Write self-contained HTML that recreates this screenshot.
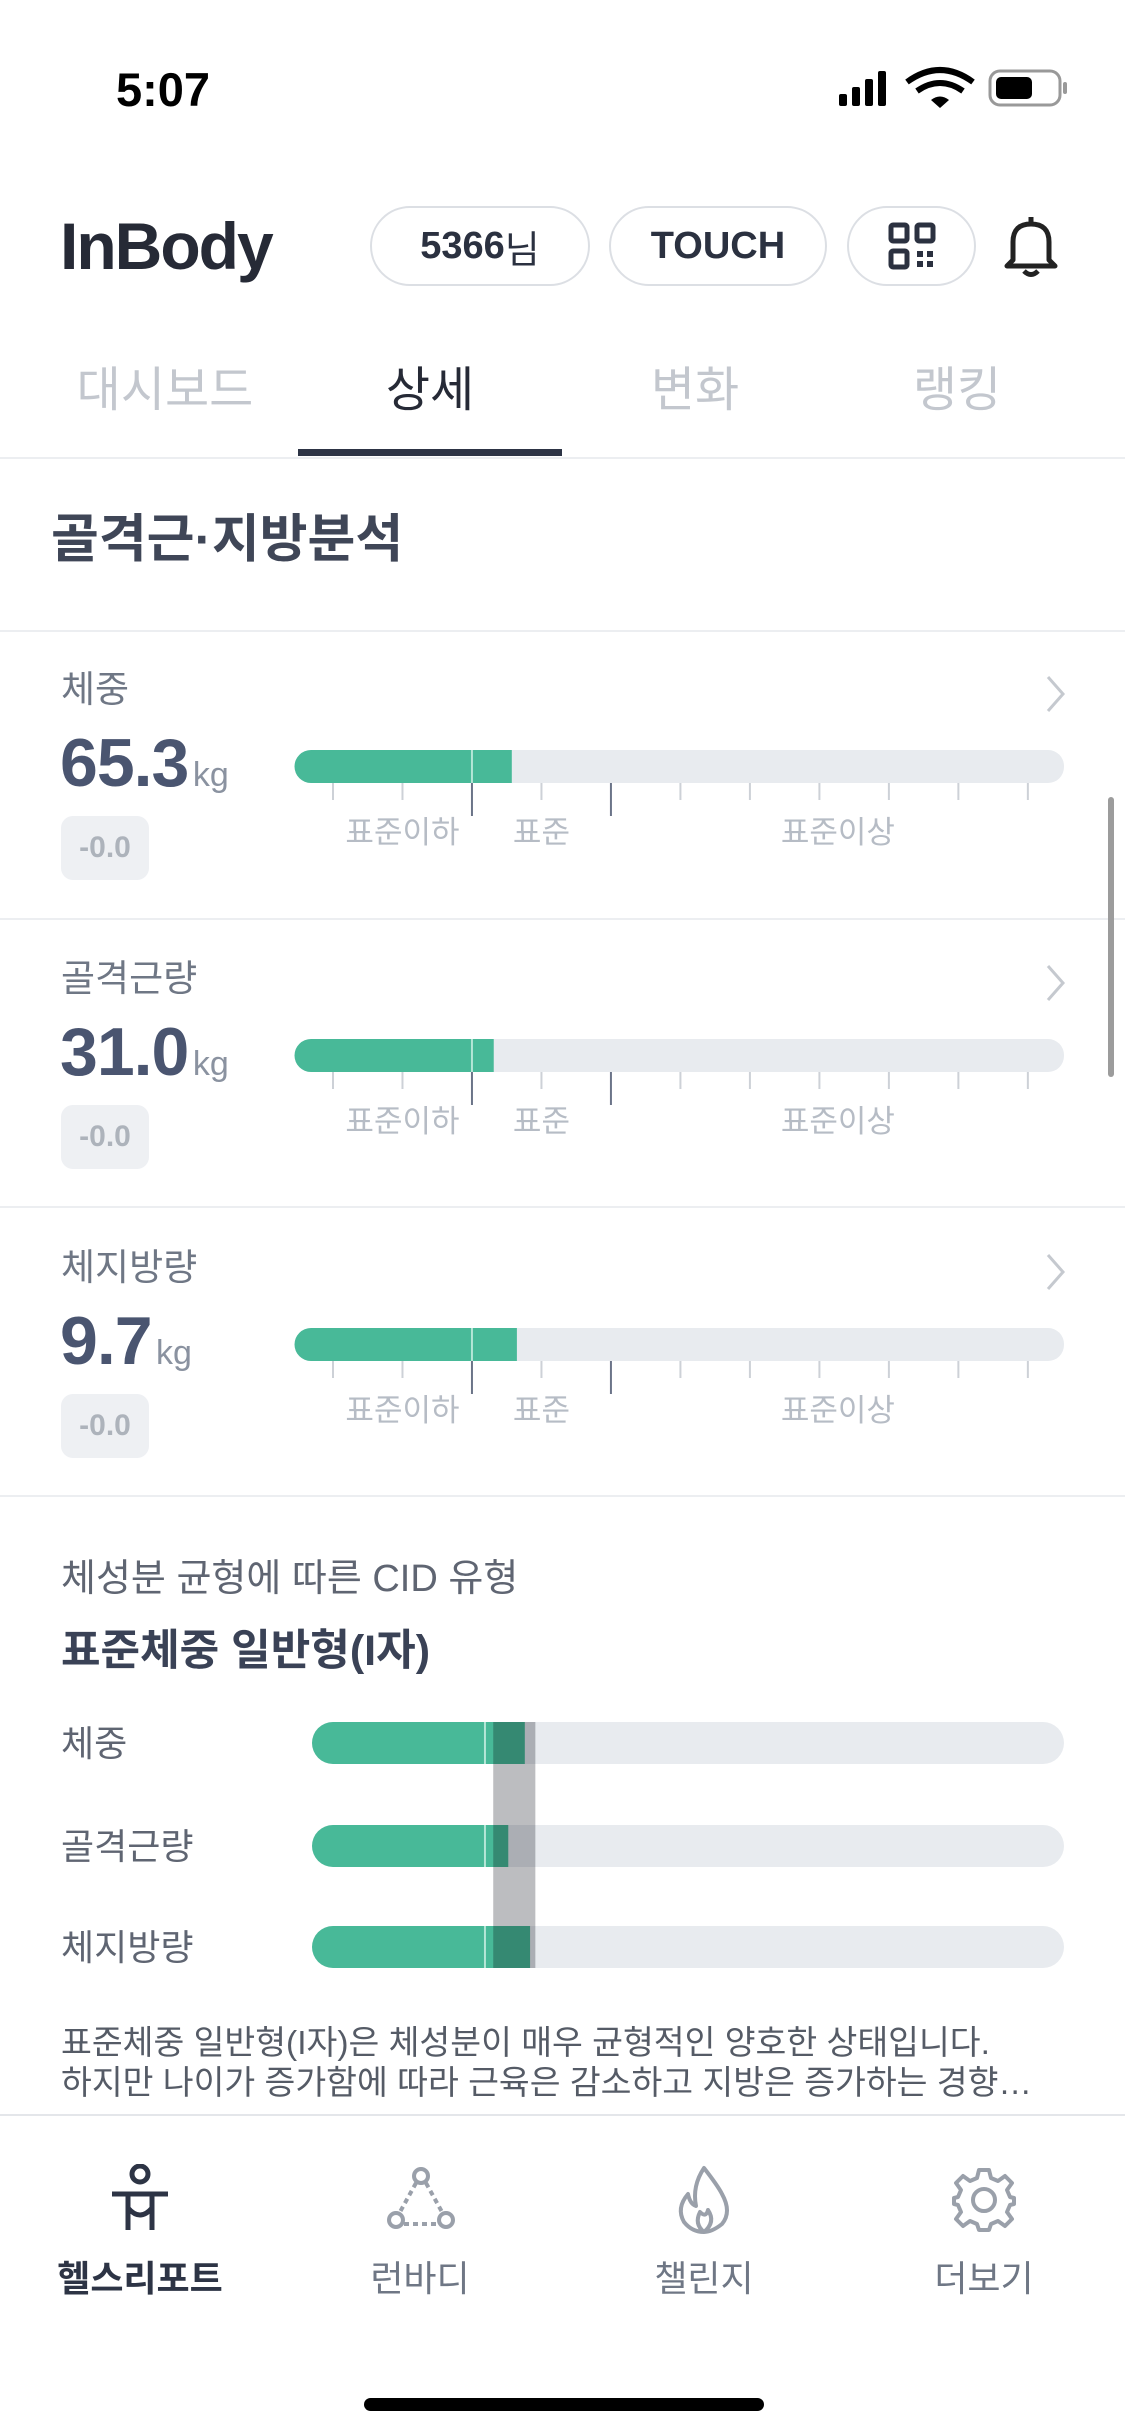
<!DOCTYPE html>
<html><head><meta charset="utf-8">
<style>
*{margin:0;padding:0;box-sizing:border-box}
body{width:1125px;height:2436px;background:#fff;position:relative;overflow:hidden;font-family:"Liberation Sans","Noto Sans CJK KR",sans-serif;color:#3a4256}
.a{position:absolute;white-space:nowrap}
.pill{position:absolute;border:2px solid #dcdfe4;border-radius:40px;top:206px;height:80px;display:flex;align-items:center;justify-content:center;font-weight:bold;font-size:38px;color:#2b3140}
.tab{position:absolute;top:350px;font-size:48px;color:#c3c7ce;transform:translateX(-50%)}
.hr{position:absolute;left:0;width:1125px;height:2px;background:#eceef1}
.lbl{font-size:37px;color:#6f7785}
.val{font-size:68px;font-weight:bold;color:#4a5570;letter-spacing:-1px}
.kg{font-size:34px;color:#8a92a0}
.badge{position:absolute;left:61px;width:88px;height:64px;background:#eef0f3;border-radius:12px;font-size:30px;font-weight:bold;color:#adb3bb;display:flex;align-items:center;justify-content:center}
.nav{position:absolute;top:2250px;font-size:36px;color:#6f7785;transform:translateX(-50%)}
</style></head><body>
<div class="a" style="left:116px;top:62px;font-size:47px;font-weight:bold;color:#000">5:07</div>
<svg class="a" style="left:835px;top:66px" width="240" height="44">
<rect x="4" y="28" width="8" height="12" rx="2" fill="#000"/><rect x="17" y="21" width="8" height="19" rx="2" fill="#000"/><rect x="30" y="13" width="8" height="27" rx="2" fill="#000"/><rect x="43" y="5" width="8" height="35" rx="2" fill="#000"/>
<path d="M72 16 Q105 -8 138 16" stroke="#000" stroke-width="6" fill="none"/><path d="M82 25 Q105 9 128 25" stroke="#000" stroke-width="6" fill="none"/><path d="M96 34 L105 42 L114 34 Q105 27 96 34Z" fill="#000"/>
<rect x="155" y="5" width="70" height="34" rx="10" stroke="#999" stroke-width="3" fill="none"/><rect x="161" y="11" width="36" height="22" rx="5" fill="#000"/><rect x="228" y="16" width="4" height="12" rx="2" fill="#999"/>
</svg>
<div class="a" style="left:60px;top:208px;font-size:66px;font-weight:bold;color:#262a36;letter-spacing:-2px">InBody</div>
<div class="pill" style="left:370px;width:220px">5366<span style="font-weight:normal">님</span></div>
<div class="pill" style="left:609px;width:218px">TOUCH</div>
<div class="pill" style="left:847px;width:129px"><svg width="48" height="48"><g fill="none" stroke="#2b3140" stroke-width="5"><rect x="3" y="3" width="16" height="16" rx="2"/><rect x="29" y="3" width="16" height="16" rx="2"/><rect x="3" y="29" width="16" height="16" rx="2"/></g><rect x="29" y="29" width="6" height="6" fill="#2b3140"/><rect x="39" y="39" width="6" height="6" fill="#2b3140"/><rect x="39" y="29" width="6" height="6" fill="#2b3140"/><rect x="29" y="39" width="6" height="6" fill="#2b3140"/></svg></div>
<svg class="a" style="left:1003px;top:214px" width="56" height="64"><path d="M10 46 L10 28 Q10 10 28 10 Q46 10 46 28 L46 46 L52 52 L4 52 Z" fill="none" stroke="#222" stroke-width="5" stroke-linejoin="round"/><path d="M21 57 Q28 64 35 57" stroke="#222" stroke-width="5" fill="none"/><line x1="28" y1="3" x2="28" y2="10" stroke="#222" stroke-width="5"/></svg>
<div class="tab" style="left:165px">대시보드</div>
<div class="tab" style="left:430px;color:#262a36">상세</div>
<div class="tab" style="left:695px">변화</div>
<div class="tab" style="left:957px">랭킹</div>
<div class="a" style="left:298px;top:449px;width:264px;height:7px;background:#2d3445"></div>
<div class="hr" style="top:457px"></div>
<div class="a" style="left:51px;top:497px;font-size:52px;font-weight:bold;color:#3f4657">골격근·지방분석</div>
<div class="hr" style="top:630px"></div>
<div id="cards"></div>
<div class="hr" style="top:918px"></div><div class="hr" style="top:1206px"></div><div class="hr" style="top:1495px"></div>
<div class="a" style="left:1108px;top:797px;width:6px;height:280px;background:#9c9c9c;border-radius:3px"></div>
<div class="a" style="left:61px;top:1547px;font-size:38px;color:#5f6572">체성분 균형에 따른 CID 유형</div>
<div class="a" style="left:61px;top:1616px;font-size:43px;font-weight:bold;color:#3a4256">표준체중 일반형(I자)</div>
<svg class="a" id="cid" style="left:0;top:1700px" width="1125" height="290"></svg>
<div class="a" style="left:61px;top:2024px;font-size:33.5px;line-height:40px;color:#555b66">표준체중 일반형(I자)은 체성분이 매우 균형적인 양호한 상태입니다.<br>하지만 나이가 증가함에 따라 근육은 감소하고 지방은 증가하는 경향…</div>
<div class="a" style="left:0;top:2114px;width:1125px;height:322px;background:#fff;border-top:2px solid #e4e6ea"></div>
<svg class="a" style="left:108px;top:2164px" width="64" height="70"><circle cx="32" cy="10" r="8" fill="none" stroke="#2d3445" stroke-width="5"/><path d="M4 30 L60 30 M20 30 L20 66 M44 30 L44 66 M20 44 Q32 58 44 44" fill="none" stroke="#2d3445" stroke-width="5"/></svg>
<svg class="a" style="left:386px;top:2166px" width="70" height="66"><g fill="none" stroke="#9aa0aa" stroke-width="4"><circle cx="35" cy="10" r="7"/><circle cx="10" cy="54" r="7"/><circle cx="60" cy="54" r="7"/><path d="M30 17 L14 46 M40 17 L56 46 M18 58 L52 58" stroke-dasharray="5 4"/></g></svg>
<svg class="a" style="left:672px;top:2164px" width="64" height="70"><path d="M32 4 Q46 22 50 30 Q60 48 50 60 Q40 68 32 68 Q20 68 12 58 Q4 44 16 30 Q18 40 24 42 Q20 22 32 4Z M32 68 Q22 60 28 48 Q34 54 36 46 Q44 58 32 68" fill="none" stroke="#9aa0aa" stroke-width="4" stroke-linejoin="round"/></svg>
<svg class="a" style="left:950px;top:2166px" width="68" height="68"><circle cx="34" cy="34" r="11" fill="none" stroke="#9aa0aa" stroke-width="4"/><path d="M29 4 L39 4 L41 12 L48 15 L55 10 L62 17 L57 24 L60 31 L64 32 L64 38 L60 39 L57 46 L62 53 L55 60 L48 55 L41 58 L39 64 L29 64 L27 58 L20 55 L13 60 L6 53 L11 46 L8 39 L4 38 L4 32 L8 31 L11 24 L6 17 L13 10 L20 15 L27 12 Z" fill="none" stroke="#9aa0aa" stroke-width="4" stroke-linejoin="round"/></svg>
<div class="nav" style="left:140px;color:#2d3445;font-weight:bold">헬스리포트</div>
<div class="nav" style="left:420px">런바디</div>
<div class="nav" style="left:704px">챌린지</div>
<div class="nav" style="left:984px">더보기</div>
<div class="a" style="left:364px;top:2398px;width:400px;height:13px;border-radius:7px;background:#000"></div>
<script>
const metricNames = ["체중","골격근량","체지방량"];
const metricValues = ["65.3","31.0","9.7"];
const metricChanges = ["-0.0","-0.0","-0.0"];
const metricPercents = [93.6, 89.7, 94.7];
const tickValues = [55,70,85,100,115,130,145,160,175,190,205];
const rangeLabels = ["표준이하","표준","표준이상"];
const rangeLabelAt = [70, 100, 164];
const cidNames = ["체중","골격근량","체지방량"];
const cidValues = [28.3, 26.1, 29.0];
const cidBand = [24.1, 29.7];
const cidMark = 23.0;

const NS="http://www.w3.org/2000/svg";
const bx0=295,bx1=1064,d0=46.8,d1=212.8;
function xs(v){return bx0+(v-d0)/(d1-d0)*(bx1-bx0);}
const cards=document.getElementById('cards');
metricNames.forEach((n,i)=>{
  const top=i*289;
  const g=document.createElement('div');
  
  
  g.innerHTML=`<div class="a lbl" style="left:61px;top:${659+top}px">${n}</div>
  <svg class="a" style="left:1044px;top:${674+top}px" width="24" height="40"><path d="M4 3 L19 20 L4 37" fill="none" stroke="#c5c9cf" stroke-width="3"/></svg>
  <div class="a" style="left:60px;top:${724+top}px"><span class="val">${metricValues[i]}</span> <span class="kg">kg</span></div>
  <div class="badge" style="top:${816+top}px">${metricChanges[i]}</div>`;
  cards.appendChild(g);
  const s=document.createElementNS(NS,'svg');
  s.setAttribute('class','a');s.setAttribute('width','1125');s.setAttribute('height','110');
  s.style.left='0';s.style.top=(745+top)+'px';
  
  
  const y0=5,h=33;
  let html=`<rect x="${bx0}" y="${y0}" width="${bx1-bx0}" height="${h}" rx="16" fill="#e8ebef"/>`;
  html+=`<path d="M${bx0+16} ${y0} H${xs(metricPercents[i])} V${y0+h} H${bx0+16} A16 16 0 0 1 ${bx0+16} ${y0}Z" fill="#48b998"/>`;
  html+=`<line x1="${xs(85)}" y1="${y0}" x2="${xs(85)}" y2="${y0+h}" stroke="#b5e6d6" stroke-width="2"/>`;
  tickValues.forEach(t=>{const dark=(t==85||t==115);html+=`<line x1="${xs(t)}" y1="${y0+h}" x2="${xs(t)}" y2="${y0+h+(dark?33:17)}" stroke="${dark?'#6b7488':'#cdd1d7'}" stroke-width="2"/>`;});
  rangeLabels.forEach((l,j)=>{html+=`<text x="${xs(rangeLabelAt[j])}" y="${y0+h+60}" text-anchor="middle" font-size="31" fill="#b6bcc5" font-family="Liberation Sans, Noto Sans CJK KR, sans-serif">${l}</text>`;});
  s.innerHTML=html;
  document.body.appendChild(s);
});
const cid=document.getElementById('cid');
const cx0=312,cx1=1064;
function cx(v){return cx0+v/100*(cx1-cx0);}
const rowY=[22,125,226],rh=42;
let ch='';
cidNames.forEach((n,i)=>{
  const y=rowY[i];
  ch+=`<text x="61" y="${y+34}" font-size="36" fill="#5f6572" font-family="Liberation Sans, Noto Sans CJK KR, sans-serif">${n}</text>`;
  ch+=`<rect x="${cx0}" y="${y}" width="${cx1-cx0}" height="${rh}" rx="21" fill="#e8ebef"/>`;
  ch+=`<path d="M${cx0+21} ${y} H${cx(cidValues[i])} V${y+rh} H${cx0+21} A21 21 0 0 1 ${cx0+21} ${y}Z" fill="#48b998"/>`;
  ch+=`<line x1="${cx(cidMark)}" y1="${y}" x2="${cx(cidMark)}" y2="${y+rh}" stroke="#b5e6d6" stroke-width="2"/>`;
});
ch+=`<rect x="${cx(cidBand[0])}" y="${rowY[0]}" width="${cx(cidBand[1])-cx(cidBand[0])}" height="${rowY[2]+rh-rowY[0]}" fill="#bcbdc0" style="mix-blend-mode:multiply"/>`;
cid.innerHTML=ch;
</script>
</body></html>
